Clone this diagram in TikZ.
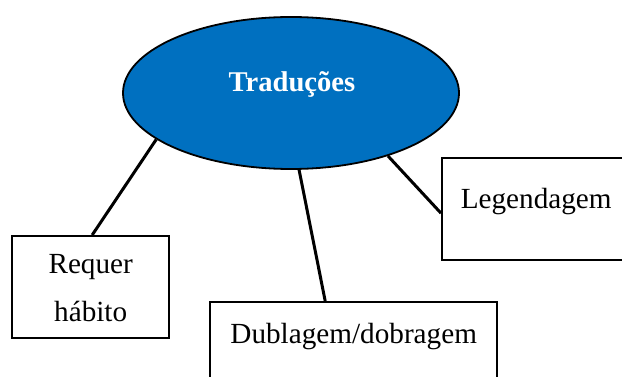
\documentclass[tikz,border=0pt]{standalone}
\usepackage{fontspec}
\setmainfont{Liberation Serif}
\usetikzlibrary{shapes.geometric}
\definecolor{ovalblue}{RGB}{0,112,192}
\tikzset{
  oval/.style={ellipse, draw=black, line width=1.8pt, fill=ovalblue, minimum width=336pt, minimum height=152pt, inner sep=0pt},
  titletext/.style={text=white, font=\fontsize{28.6}{34}\selectfont\bfseries, inner sep=0pt, anchor=base},
  wbox/.style={draw=black, line width=2.4pt, fill=white, inner sep=0pt, align=center, font=\fontsize{29.2}{48}\selectfont},
  link/.style={draw=black, line width=3pt}
}
\begin{document}
\begin{tikzpicture}[x=1pt,y=-1pt]
\useasboundingbox (0,0) rectangle (622,377);
\clip (0,0) rectangle (622,377);
\node[oval] (e) at (291,93) {};
\node[titletext] (t) at (292,92) {Traduções};
\node[wbox, anchor=north west, text width=157pt, text height=37pt, text depth=65pt] (r) at (11,235) {Requer\\hábito};
\node[wbox, anchor=north west, text width=287pt, text height=41pt, text depth=60pt] (d) at (209,301) {Dublagem/dobragem};
\node[wbox, anchor=north west, text width=188pt, text height=50pt, text depth=52pt] (l) at (441,157) {Legendagem};
\draw[link] (e.199) -- ([xshift=1.5pt]r.north);
\draw[link] (e.276.7) -- ([xshift=-28.5pt]d.north);
\draw[link] (e.327) -- ([yshift=-4pt]l.west);
\end{tikzpicture}
\end{document}
